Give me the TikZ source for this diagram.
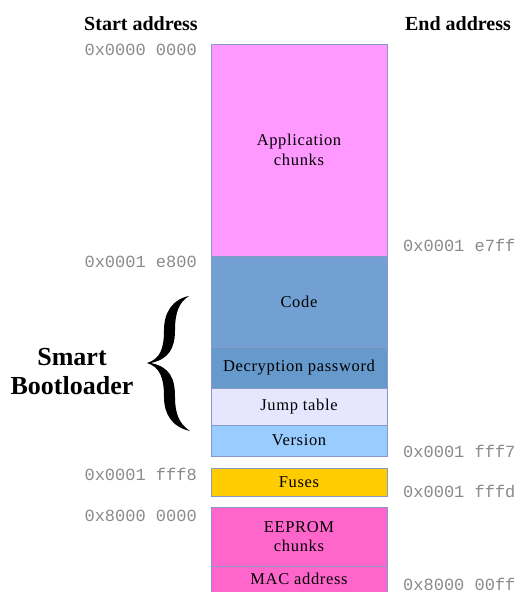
\documentclass[tikz,border=0pt]{standalone}
\usepackage{fontspec}
\setmainfont{Liberation Serif}
\setmonofont{Liberation Mono}
\definecolor{appc}{HTML}{FF99FF}
\definecolor{codec}{HTML}{72A0D2}
\definecolor{decc}{HTML}{6699CC}
\definecolor{jumpc}{HTML}{E6E6FF}
\definecolor{verc}{HTML}{99CCFF}
\definecolor{fusec}{HTML}{FFCC00}
\definecolor{eepc}{HTML}{FF66CC}
\definecolor{edgec}{HTML}{8A9AC8}
\definecolor{addrc}{HTML}{8A8A8A}
\begin{document}
\begin{tikzpicture}[x=1pt,y=-1pt,
  memfont/.style={font=\fontsize{16.5}{19.5}\selectfont\addfontfeature{LetterSpace=4}},
  mem/.style={draw=edgec, line width=0.9pt, rectangle, anchor=north west, inner sep=0pt, outer sep=0pt,
    minimum width=176pt, align=center, memfont},
  addr/.style={font=\fontsize{17}{17}\ttfamily, text=addrc, inner sep=0pt},
  laddr/.style={addr, anchor=east},
  raddr/.style={addr, anchor=west},
  head/.style={font=\fontsize{20}{20}\selectfont\bfseries, inner sep=0pt}]
\useasboundingbox (0,0) rectangle (526,592);
% memory blocks
\node[mem, fill=appc, minimum height=212pt] (app) at (211,44) {Application\\chunks};
\node[mem, fill=codec, minimum height=91pt] (code) at (211,256) {Code};
\node[mem, fill=decc, minimum height=41pt] (dec) at (211,347) {Decryption password};
\node[mem, fill=jumpc, minimum height=37pt] (jump) at (211,388) {Jump table};
\node[mem, fill=verc, minimum height=31pt] (ver) at (211,425) {Version};
\node[mem, fill=fusec, minimum height=28pt] (fuse) at (211,468) {Fuses};
\node[mem, fill=eepc, minimum height=59pt] (eep) at (211,507) {EEPROM\\chunks};
\node[mem, fill=eepc, minimum height=34pt] (mac) at (211,566) {};
\node[memfont, inner sep=0pt] (mact) at (299,579) {MAC address};
% headers
\node[head] (hs) at (141,24) {Start address};
\node[head] (he) at (458,24) {End address};
% addresses
\node[laddr] (a1) at (197,50) {0x0000 0000};
\node[laddr] (a2) at (197,262) {0x0001 e800};
\node[laddr] (a3) at (197,474) {0x0001 fff8};
\node[laddr] (a4) at (197,516) {0x8000 0000};
\node[raddr] (b1) at (403,245) {0x0001 e7ff};
\node[raddr] (b2) at (403,451) {0x0001 fff7};
\node[raddr] (b3) at (403,491) {0x0001 fffd};
\node[raddr] (b4) at (403,584) {0x8000 00ff};
% smart bootloader
\node[font=\fontsize{26}{29}\selectfont\bfseries, align=center, inner sep=0pt] (sb) at (72,372) {Smart\\Bootloader};
\fill (189,296) .. controls (173,299) and (164,312) .. (164,330)
  .. controls (164,349) and (160,359) .. (147,363)
  .. controls (160,367) and (164,378) .. (164,397)
  .. controls (164,414) and (172,427) .. (190,431)
  .. controls (179,424) and (175,413) .. (175,397)
  .. controls (175,377) and (169,367) .. (151,363)
  .. controls (169,359) and (175,348) .. (175,330)
  .. controls (175,313) and (179,302) .. (189,296) -- cycle;
\end{tikzpicture}
\end{document}
